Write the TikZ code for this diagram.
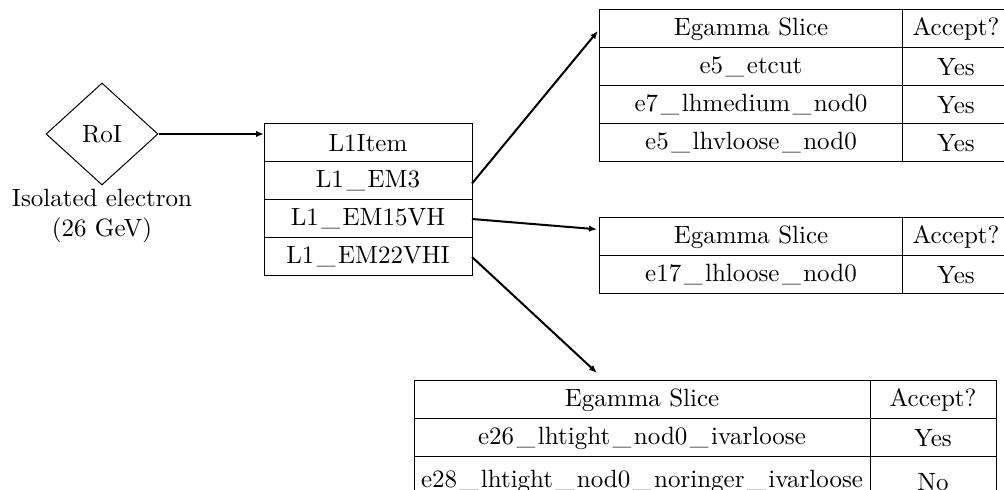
\documentclass[tikz,border=0pt]{standalone}
\usetikzlibrary{arrows.meta,positioning,shapes.geometric}

\newcommand{\us}{\kern0.1em\_\kern0.1em}

\begin{document}
\begin{tikzpicture}[x=0.4pt,y=-0.4pt,
        cell/.style={draw,minimum height=15.2pt,inner sep=0pt,outer sep=0pt},
        trig/.style={-{Latex[length=3.2pt,width=2.6pt]},thick}]
        \useasboundingbox (0,0) rectangle (1004,490);
        \clip (0,0) rectangle (1004,490);

        % region of interest
        \node[diamond,draw,minimum width=44.8pt,minimum height=40.8pt,inner sep=0pt] (roi) at (102,134) {RoI};
        \node[align=center] (ele) at (102,216) {Isolated electron\\(26 GeV)};

        % L1 items
        \node[cell,minimum width=83.2pt] (l1head) at (368,143) {L1Item};
        \node[cell,minimum width=83.2pt,below=0pt of l1head] (l1em3) {L1\us EM3};
        \node[cell,minimum width=83.2pt,below=0pt of l1em3] (l1em15) {L1\us EM15VH};
        \node[cell,minimum width=83.2pt,below=0pt of l1em15] (l1em22) {L1\us EM22VHI};

        % slices for L1_EM3
        \node[cell,minimum width=121.2pt] (tah) at (751,29) {Egamma Slice};
        \node[cell,minimum width=42.8pt,right=0pt of tah] (taha) {Accept?};
        \node[cell,minimum width=121.2pt,below=0pt of tah] (ta1) {e5\us etcut};
        \node[cell,minimum width=42.8pt,right=0pt of ta1] (ta1a) {Yes};
        \node[cell,minimum width=121.2pt,below=0pt of ta1] (ta2) {e7\us lhmedium\us nod0};
        \node[cell,minimum width=42.8pt,right=0pt of ta2] (ta2a) {Yes};
        \node[cell,minimum width=121.2pt,below=0pt of ta2] (ta3) {e5\us lhvloose\us nod0};
        \node[cell,minimum width=42.8pt,right=0pt of ta3] (ta3a) {Yes};

        % slices for L1_EM15VH
        \node[cell,minimum width=121.2pt] (tbh) at (751,237) {Egamma Slice};
        \node[cell,minimum width=42.8pt,right=0pt of tbh] (tbha) {Accept?};
        \node[cell,minimum width=121.2pt,below=0pt of tbh] (tb1) {e17\us lhloose\us nod0};
        \node[cell,minimum width=42.8pt,right=0pt of tb1] (tb1a) {Yes};

        % slices for L1_EM22VHI
        \node[cell,minimum width=182.4pt] (tch) at (642,400) {Egamma Slice};
        \node[cell,minimum width=50.4pt,right=0pt of tch] (tcha) {Accept?};
        \node[cell,minimum width=182.4pt,below=0pt of tch] (tc1) {e26\us lhtight\us nod0\us ivarloose};
        \node[cell,minimum width=50.4pt,right=0pt of tc1] (tc1a) {Yes};
        \node[cell,minimum width=182.4pt,minimum height=19.7pt,below=0pt of tc1] (tc2) {e28\us lhtight\us nod0\us noringer\us ivarloose};
        \node[cell,minimum width=50.4pt,minimum height=19.7pt,right=0pt of tc2] (tc2a) {No};
        \coordinate (tcin) at ([xshift=-18pt,yshift=3.2pt]tch.north);

        \draw[trig] (roi.east) -- (roi.east -| l1head.west);
        \draw[trig, shorten >=1pt] ([yshift=-1pt]l1em3.east) -- (tah.west);
        \draw[trig, shorten >=1pt] (l1em15.east) -- ([yshift=3pt]tbh.west);
        \draw[trig] (l1em22.east) -- (tcin);
    \end{tikzpicture}
\end{document}
